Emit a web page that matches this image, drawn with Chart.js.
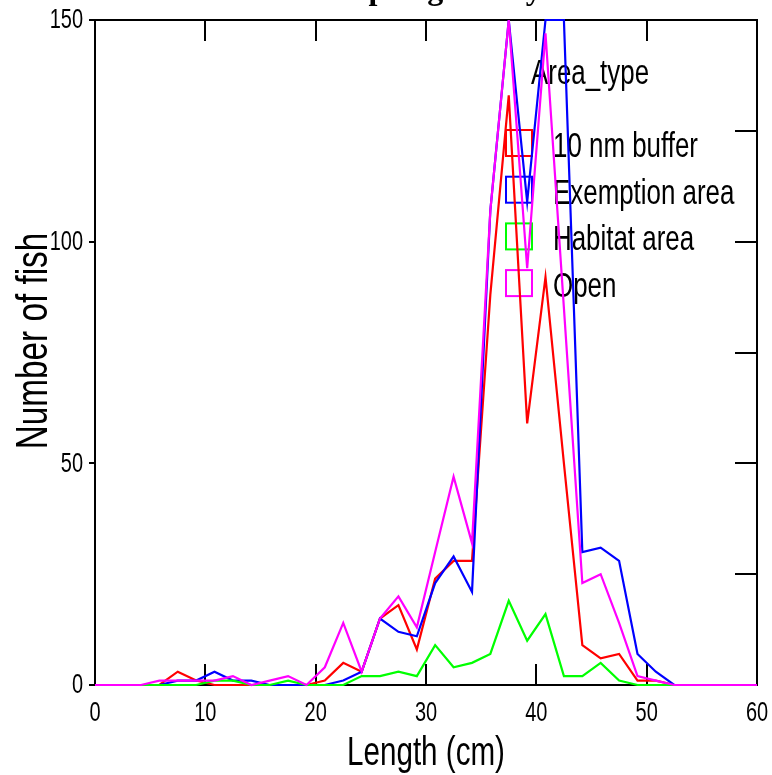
<!DOCTYPE html>
<html>
<head>
<meta charset="utf-8">
<script src="https://cdn.jsdelivr.net/npm/chart.js@4/dist/chart.umd.min.js"></script>
<style>
    html, body { margin: 0; padding: 0; overflow: hidden; background: #fff; }
    canvas { display: block; }
</style>
</head>
<body>
<canvas id="chart" width="772" height="775"></canvas>
<script>
// length classes (cm), bin mid points plus the two ends of the axis
var lengths = [0, 0.83, 2.5, 4.17, 5.83, 7.5, 9.17, 10.83, 12.5, 14.17, 15.83, 17.5, 19.17, 20.83,
    22.5, 24.17, 25.83, 27.5, 29.17, 30.83, 32.5, 34.17, 35.83, 37.5, 39.17, 40.83, 42.5, 44.17,
    45.83, 47.5, 49.17, 50.83, 52.5, 54.17, 55.83, 57.5, 59.17, 60];

var bufferFish    = [0, 0, 0, 0, 0, 3, 1, 0, 0, 0, 0, 0, 0, 1, 5, 3, 15, 18, 8, 24, 28, 28, 88, 133, 59, 92, 50, 9, 6, 7, 1, 1, 0, 0, 0, 0, 0, 0];
var exemptionFish = [0, 0, 0, 0, 0, 1, 1, 3, 1, 1, 0, 0, 0, 0, 1, 3, 15, 12, 11, 23, 29, 21, 107, 150, 109, 150, 150, 30, 31, 28, 7, 3, 0, 0, 0, 0, 0, 0];
var habitatFish   = [0, 0, 0, 0, 0, 0, 0, 1, 1, 0, 0, 1, 0, 0, 0, 2, 2, 3, 2, 9, 4, 5, 7, 19, 10, 16, 2, 2, 5, 1, 0, 0, 0, 0, 0, 0, 0, 0];
var openFish      = [0, 0, 0, 0, 1, 1, 1, 1, 2, 0, 1, 2, 0, 4, 14, 3, 15, 20, 13, 30, 47, 32, 107, 150, 94, 147, 85, 23, 25, 14, 2, 1, 0, 0, 0, 0, 0, 0];

var areaTypes = ['10 nm buffer', 'Exemption area', 'Habitat area', 'Open'];
var areaColors = ['#ff0000', '#0000ff', '#00ff00', '#ff00ff'];

var xTicks = [0, 10, 20, 30, 40, 50, 60];
var yTicks = [0, 50, 100, 150];
var yMinorTicks = [25, 50, 75, 100, 125];

// only the lower edge of the title is inside the picture
var chartTitle = 'spring surveys';
var xTitle = 'Length (cm)';
var yTitle = 'Number of fish';
var legendTitle = 'Area_type';

var SANS = '"Liberation Sans", Arial, sans-serif';
var SQUEEZE = 0.74;

function toPoints(values) {
    var pts = [];
    for (var i = 0; i < lengths.length; i++) {
        pts.push({x: lengths[i], y: values[i]});
    }
    return pts;
}

function squeezedText(ctx, text, x, y, size, align, baseline, angle) {
    ctx.save();
    ctx.translate(x, y);
    if (angle) {
        ctx.rotate(angle);
    }
    ctx.scale(SQUEEZE, 1);
    ctx.font = size + 'px ' + SANS;
    ctx.textAlign = align;
    ctx.textBaseline = baseline;
    ctx.fillStyle = '#000';
    ctx.fillText(text, 0, 0);
    ctx.restore();
}

var frameAndLegend = {
    id: 'frameAndLegend',
    beforeDatasetsDraw: function(chart) {
        var ctx = chart.ctx;
        var area = chart.chartArea;
        var xs = chart.scales.x;
        var ys = chart.scales.y;
        var i, px, py;

        // frame and inward ticks, under the lines
        ctx.save();
        ctx.strokeStyle = '#000';
        ctx.lineWidth = 2;
        ctx.strokeRect(area.left, area.top, area.right - area.left, area.bottom - area.top);

        ctx.beginPath();
        for (i = 1; i < xTicks.length - 1; i++) {
            px = Math.round(xs.getPixelForValue(xTicks[i]));
            ctx.moveTo(px, area.bottom);
            ctx.lineTo(px, area.bottom - 21);
            ctx.moveTo(px, area.top);
            ctx.lineTo(px, area.top + 21);
        }
        for (i = 0; i < yMinorTicks.length; i++) {
            py = Math.round(ys.getPixelForValue(yMinorTicks[i]));
            ctx.moveTo(area.right, py);
            ctx.lineTo(area.right - 22, py);
        }
        for (i = 0; i < yTicks.length; i++) {
            py = Math.round(ys.getPixelForValue(yTicks[i]));
            ctx.moveTo(area.left, py);
            ctx.lineTo(area.left - 6, py);
        }
        ctx.stroke();
        ctx.restore();

        // legend inside the plot, top right
        squeezedText(ctx, legendTitle, 531, 84, 35, 'left', 'alphabetic');
        for (i = 0; i < areaTypes.length; i++) {
            var top = 130 + i * 46.7;
            ctx.save();
            ctx.strokeStyle = areaColors[i];
            ctx.lineWidth = 2;
            ctx.strokeRect(506, top, 26, 26);
            ctx.restore();
            squeezedText(ctx, areaTypes[i], 553, top + 27, 35, 'left', 'alphabetic');
        }
    },
    afterDraw: function(chart) {
        var ctx = chart.ctx;
        var area = chart.chartArea;
        var xs = chart.scales.x;
        var ys = chart.scales.y;
        var i;

        for (i = 0; i < xTicks.length; i++) {
            squeezedText(ctx, String(xTicks[i]), xs.getPixelForValue(xTicks[i]), 714, 27, 'center', 'middle');
        }
        for (i = 0; i < yTicks.length; i++) {
            squeezedText(ctx, String(yTicks[i]), 83, ys.getPixelForValue(yTicks[i]) + 1, 27, 'right', 'middle');
        }

        squeezedText(ctx, xTitle, (area.left + area.right) / 2, 765, 40, 'center', 'alphabetic');
        squeezedText(ctx, yTitle, 47, 341, 45, 'center', 'alphabetic', -Math.PI / 2);

        ctx.save();
        ctx.font = 'bold 32px "Liberation Serif", "Times New Roman", serif';
        ctx.textAlign = 'left';
        ctx.textBaseline = 'alphabetic';
        ctx.fillStyle = '#000';
        ctx.fillText(chartTitle, 356, -1);
        ctx.restore();
    }
};

var datasets = [];
var seriesValues = [bufferFish, exemptionFish, habitatFish, openFish];
for (var s = 0; s < areaTypes.length; s++) {
    datasets.push({
        label: areaTypes[s],
        data: toPoints(seriesValues[s]),
        borderColor: areaColors[s],
        backgroundColor: areaColors[s],
        borderWidth: 2.2,
        pointRadius: 0,
        tension: 0,
        fill: false,
        clip: 3,
        order: areaTypes.length - s
    });
}

new Chart(document.getElementById('chart'), {
    type: 'line',
    data: {datasets: datasets},
    options: {
        responsive: false,
        animation: false,
        devicePixelRatio: 1,
        layout: {padding: {left: 95, right: 15, top: 20, bottom: 90}},
        scales: {
            x: {type: 'linear', min: 0, max: 60, display: false},
            y: {type: 'linear', min: 0, max: 150, display: false}
        },
        plugins: {
            legend: {display: false},
            tooltip: {enabled: false},
            title: {display: false}
        }
    },
    plugins: [frameAndLegend]
});
</script>
</body>
</html>
